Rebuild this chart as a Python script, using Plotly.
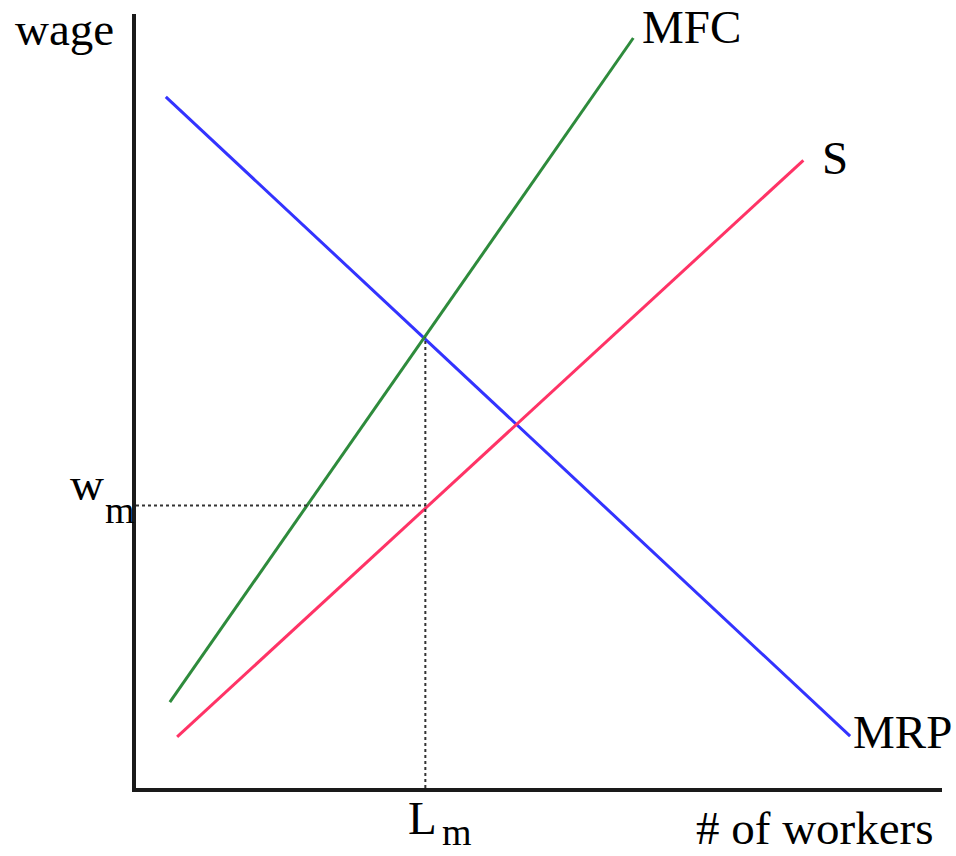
import plotly.graph_objects as go

# ---- data (workers on x, wage on y) ----
mrp_x = [3.7, 88.6]
mrp_y = [89.3, 6.7]
mfc_x = [4.2, 61.7]
mfc_y = [11.1, 96.9]
s_x = [5.1, 82.8]
s_y = [6.6, 81.1]
L_m = 35.9          # monopsony employment
w_m = 36.5          # monopsony wage
mfc_at_Lm = 58.2    # MRP = MFC level

FONT = "Liberation Serif"
FS = 47
FS_SUB = 38
W, H = 956, 856
ML, MR, MT, MB = 136, 14, 14, 68

fig = go.Figure()
fig.add_trace(go.Scatter(x=mrp_x, y=mrp_y, mode="lines",
                         line=dict(color="#3333ff", width=3), hoverinfo="skip"))
fig.add_trace(go.Scatter(x=mfc_x, y=mfc_y, mode="lines",
                         line=dict(color="#2e8b3c", width=3), hoverinfo="skip"))
fig.add_trace(go.Scatter(x=s_x, y=s_y, mode="lines",
                         line=dict(color="#ff3366", width=3), hoverinfo="skip"))
# dotted guides
fig.add_trace(go.Scatter(x=[L_m, L_m], y=[0, mfc_at_Lm], mode="lines",
                         line=dict(color="#333333", width=2, dash="dot"), hoverinfo="skip"))
fig.add_trace(go.Scatter(x=[0, L_m], y=[w_m, w_m], mode="lines",
                         line=dict(color="#333333", width=2, dash="dot"), hoverinfo="skip"))

PW = W - ML - MR
PH = H - MT - MB

def label(text, px, py, size=FS):
    fig.add_annotation(x=(px - ML) / PW, y=(H - MB - py) / PH, xref="paper", yref="paper",
                       text=text, showarrow=False, xanchor="center", yanchor="middle",
                       borderpad=0, font=dict(family=FONT, size=size, color="black"))

label("wage", 64, 29)
label("MFC", 691, 27)
label("S", 835, 158)
label("MRP", 902, 732)
label("w", 87, 484)
label("m", 120, 510, FS_SUB)
label("L", 422, 818)
label("m", 457, 832, FS_SUB)
label("# of workers", 815, 828)

fig.update_layout(
    width=W, height=H,
    margin=dict(l=ML, r=MR, t=MT, b=MB),
    paper_bgcolor="white", plot_bgcolor="white",
    showlegend=False,
    xaxis=dict(range=[0, 100], showgrid=False, zeroline=False, showticklabels=False,
               ticks="", showline=True, linecolor="#1a1a1a", linewidth=3.5, fixedrange=True),
    yaxis=dict(range=[0, 100], showgrid=False, zeroline=False, showticklabels=False,
               ticks="", showline=True, linecolor="#1a1a1a", linewidth=3.5, fixedrange=True),
)

fig.write_html("out.html", config={"displayModeBar": False},
               post_script="document.body.style.margin='0';document.body.style.overflow='hidden';")
